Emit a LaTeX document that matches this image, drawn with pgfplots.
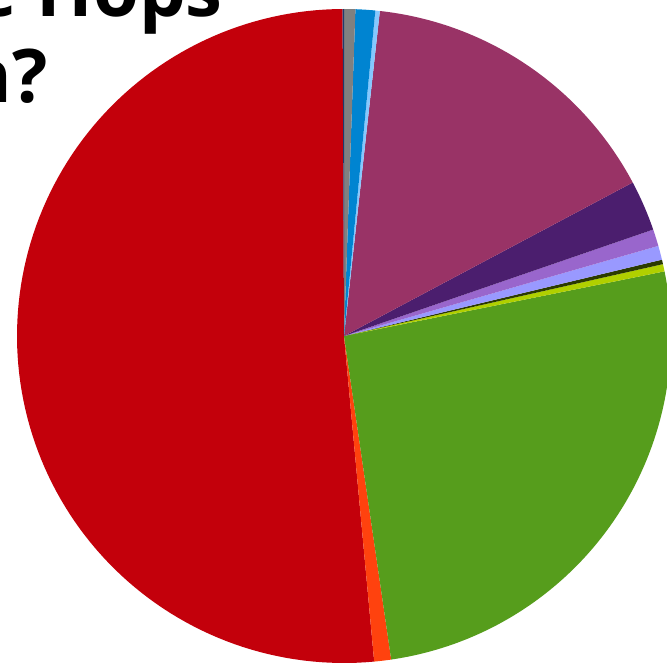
\documentclass[border=0pt]{standalone}
\usepackage{pgfplots}
\pgfplotsset{compat=1.18}
\usepackage{fontspec}
\setmainfont{Open Sans}
\definecolor{cNavy}{HTML}{1F3A6E}
\definecolor{cGray}{HTML}{808080}
\definecolor{cBlue}{HTML}{0084D1}
\definecolor{cLBlue}{HTML}{85C8FF}
\definecolor{cPurple}{HTML}{993366}
\definecolor{cDPurple}{HTML}{4B1E6E}
\definecolor{cMPurple}{HTML}{9966CC}
\definecolor{cLav}{HTML}{9999FF}
\definecolor{cDark}{HTML}{2B3A00}
\definecolor{cYG}{HTML}{B0D000}
\definecolor{cGreen}{HTML}{569D1C}
\definecolor{cOrange}{HTML}{FF420E}
\definecolor{cRed}{HTML}{C3000B}
% slice: colour, start angle, end angle (degrees, counter-clockwise from east)
\newcommand{\slice}[3]{%
  \addplot[draw=none, fill=#1, domain=#2:#3, samples=120, variable=\t]
    ({344+327*cos(\t)}, {326+327*sin(\t)}) -- (axis cs:344,326) -- cycle;}
\begin{document}
\begin{tikzpicture}
\begin{axis}[
  width=667pt, height=662pt, scale only axis,
  xmin=0, xmax=667, ymin=0, ymax=662,
  hide axis, clip=true,
]
\slice{cRed}{-269.75}{-84.7}
\slice{cOrange}{-84.7}{-81.7}
\slice{cGreen}{-81.7}{11.4}
\slice{cYG}{11.4}{12.7}
\slice{cDark}{12.7}{13.5}
\slice{cLav}{13.5}{16}
\slice{cMPurple}{16}{19}
\slice{cDPurple}{19}{28}
\slice{cPurple}{28}{83.7}
\slice{cLBlue}{83.7}{84.5}
\slice{cBlue}{84.5}{88}
\slice{cGray}{88}{90}
\slice{cNavy}{90}{90.25}
\node[anchor=base east, inner sep=0pt, font=\fontsize{74}{86}\selectfont\bfseries] at (axis cs:223,645) {the Hops};
\node[anchor=base east, inner sep=0pt, font=\fontsize{74}{86}\selectfont\bfseries] at (axis cs:48,559) {grown?};
\end{axis}
\pgfresetboundingbox
\path (current axis.south west) rectangle (current axis.north east);
\end{tikzpicture}
\end{document}
